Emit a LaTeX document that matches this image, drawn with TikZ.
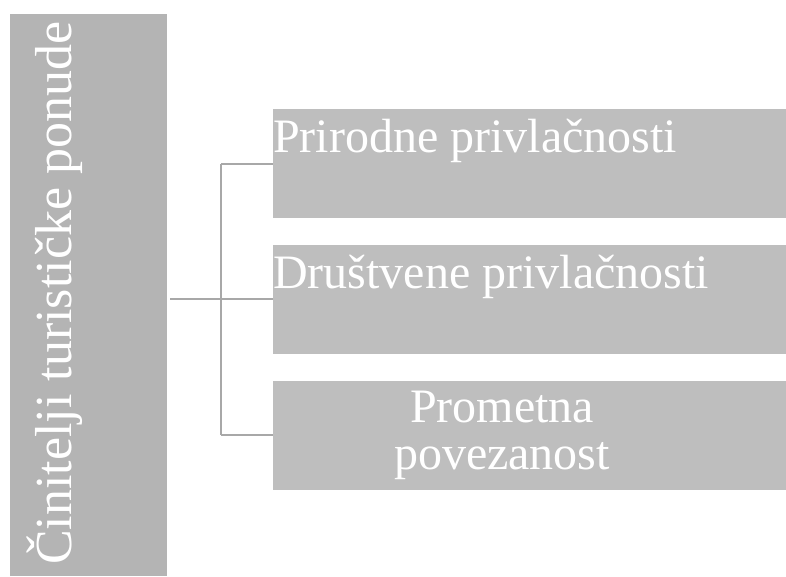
\documentclass[tikz,border=0pt]{standalone}
\usepackage{fontspec}
\setmainfont{Liberation Serif}
\begin{document}
\begin{tikzpicture}[x=1pt,y=-1pt,
  mainbox/.style={fill=mainfill,draw=none,inner sep=0pt,minimum width=157pt,minimum height=562pt},
  subbox/.style={fill=subfill,draw=none,inner sep=0pt,minimum width=513pt,minimum height=109pt},
  lbl/.style={text=white,inner sep=0pt,font=\fontsize{48pt}{47pt}\selectfont},
  conn/.style={draw=linegray,line width=2pt}]
\definecolor{mainfill}{HTML}{B4B4B4}
\definecolor{subfill}{HTML}{BEBEBE}
\definecolor{linegray}{HTML}{A8A8A8}
\useasboundingbox (0,0) rectangle (786,576);
\node[mainbox] (main) at (88.5,295) {};
\node[lbl,font=\fontsize{52pt}{52pt}\selectfont,rotate=90,anchor=base west] (mainlbl) at (71,565) {Činitelji turističke ponude};
\node[subbox] (b1) at (529.5,163.5) {};
\node[subbox] (b2) at (529.5,299) {};
\node[subbox] (b3) at (529.5,435) {};
\node[lbl,anchor=base west] (t1) at (273,152) {Prirodne privlačnosti};
\node[lbl,anchor=base west] (t2) at (273,288) {Društvene privlačnosti};
\node[lbl,anchor=base] (t3a) at (502,422) {Prometna};
\node[lbl,anchor=base] (t3b) at (502,469) {povezanost};
\coordinate (j) at (221,299);
\draw[conn] ([xshift=3pt]main.east |- j) -- (j);
\draw[conn] (j |- b1.west) -- (j |- b3.west);
\draw[conn] (j |- b1.west) -- (b1.west);
\draw[conn] (j) -- (b2.west);
\draw[conn] (j |- b3.west) -- (b3.west);
\end{tikzpicture}
\end{document}
